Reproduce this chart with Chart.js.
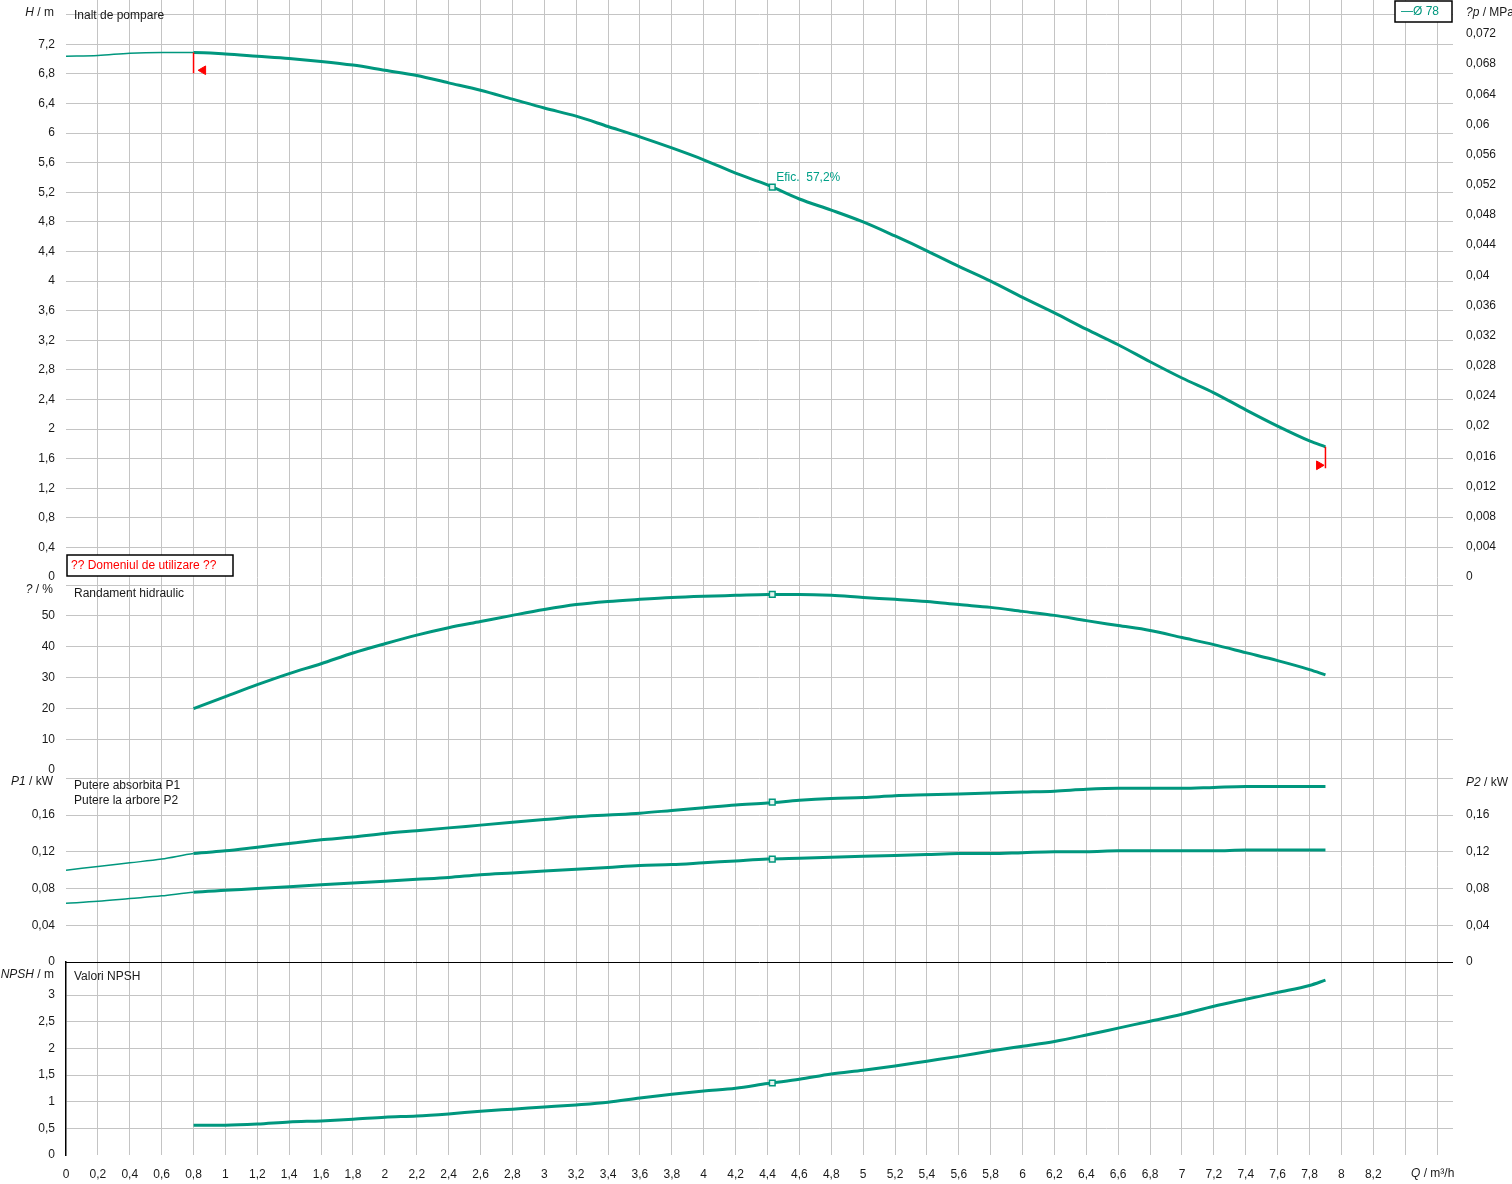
<!DOCTYPE html>
<html>
<head>
<meta charset="utf-8">
<script src="https://cdn.jsdelivr.net/npm/chart.js@4/dist/chart.umd.min.js"></script>
<style>
  html, body { margin: 0; padding: 0; background: #fff; }
</style>
</head>
<body>
<canvas id="pumpChart" width="1512" height="1184"></canvas>
<script>
// flow Q in m3/h
const qFlow = [0, 0.2, 0.4, 0.6, 0.8, 1, 1.2, 1.4, 1.6, 1.8, 2, 2.2, 2.4, 2.6, 2.8, 3, 3.2, 3.4, 3.6, 3.8,
  4, 4.2, 4.4, 4.6, 4.8, 5, 5.2, 5.4, 5.6, 5.8, 6, 6.2, 6.4, 6.6, 6.8, 7, 7.2, 7.4, 7.6, 7.8, 7.9];

// H / m
const head = [7.04, 7.05, 7.08, 7.09, 7.09, 7.07, 7.04, 7.01, 6.97, 6.92, 6.85, 6.78, 6.68, 6.58, 6.46, 6.34, 6.23, 6.09, 5.95, 5.80,
  5.64, 5.46, 5.30, 5.11, 4.96, 4.80, 4.61, 4.41, 4.20, 4.00, 3.78, 3.57, 3.35, 3.14, 2.91, 2.69, 2.49, 2.26, 2.04, 1.84, 1.76];

// randament / %
const eff = [null, null, null, null, 19.9, 23.8, 27.7, 31.3, 34.5, 38.0, 41.0, 43.8, 46.2, 48.2, 50.2, 52.1, 53.7, 54.7, 55.4, 56.0,
  56.4, 56.7, 57.0, 57.0, 56.7, 56.0, 55.4, 54.7, 53.7, 52.8, 51.5, 50.2, 48.5, 46.9, 45.3, 43.0, 40.7, 38.1, 35.5, 32.6, 30.9];

// P1 / kW
const powerP1 = [0.100, 0.104, 0.108, 0.112, 0.118, 0.121, 0.125, 0.129, 0.133, 0.136, 0.140, 0.143, 0.146, 0.149, 0.152, 0.155, 0.158, 0.160, 0.162, 0.165,
  0.168, 0.171, 0.173, 0.176, 0.178, 0.179, 0.181, 0.182, 0.183, 0.184, 0.185, 0.186, 0.188, 0.189, 0.189, 0.189, 0.190, 0.191, 0.191, 0.191, 0.191];

// P2 / kW
const powerP2 = [0.064, 0.066, 0.069, 0.072, 0.076, 0.078, 0.080, 0.082, 0.084, 0.086, 0.088, 0.090, 0.092, 0.095, 0.097, 0.099, 0.101, 0.103, 0.105, 0.106,
  0.108, 0.110, 0.112, 0.113, 0.114, 0.115, 0.116, 0.117, 0.118, 0.118, 0.119, 0.120, 0.120, 0.121, 0.121, 0.121, 0.121, 0.122, 0.122, 0.122, 0.122];

// NPSH / m
const npsh = [null, null, null, null, 0.56, 0.56, 0.58, 0.62, 0.64, 0.67, 0.71, 0.73, 0.77, 0.82, 0.86, 0.90, 0.94, 0.99, 1.07, 1.14,
  1.20, 1.25, 1.34, 1.42, 1.52, 1.59, 1.67, 1.76, 1.85, 1.95, 2.04, 2.13, 2.25, 2.38, 2.51, 2.64, 2.79, 2.92, 3.05, 3.18, 3.28];

// punct optim (BEP)
const bepQ = 4.43;
const bepHead = 5.27;
const bepEff = 57.0;
const bepP1 = 0.174;
const bepP2 = 0.112;
const bepNpsh = 1.35;
const bepLabel = 'Efic.  57,2%';

// domeniul de utilizare: limite
const limitQ = [0.8, 7.9];
const limitTop = [7.09, 1.76];
const limitBottom = [6.81, 1.47];
const arrowQ = [0.86, 7.86];
const arrowH = [6.85, 1.51];

const thinUntil = 0.8;
const teal = '#00977e';
const gridCol = '#c4c4c4';
const FONT = '"Liberation Sans", Arial, sans-serif';

Chart.defaults.font.family = FONT;
Chart.defaults.font.size = 12;
Chart.defaults.color = '#1a1a1a';

function fmt(v) { return String(+v.toFixed(4)).replace('.', ','); }
function pts(ys) { return qFlow.map((x, i) => ({ x: x, y: ys[i] })); }

const segWidth = ctx => ctx.p0.parsed.x < thinUntil - 1e-6 ? 1.5 : 3;

function noPad(s) { s.paddingTop = 0; s.paddingBottom = 0; s.paddingLeft = 0; s.paddingRight = 0; }

function curve(ys, axis) {
  return {
    data: pts(ys), yAxisID: axis,
    borderColor: teal, borderWidth: 3,
    segment: { borderWidth: segWidth },
    pointRadius: 0, cubicInterpolationMode: 'monotone'
  };
}
function bep(y, axis) {
  return {
    data: [{ x: bepQ, y: y }], yAxisID: axis, showLine: false,
    pointStyle: 'rect', pointRadius: 4, borderWidth: 1.5,
    borderColor: teal, pointBackgroundColor: '#e8f5f1'
  };
}
function limitLine(i) {
  return {
    data: [{ x: limitQ[i], y: limitTop[i] }, { x: limitQ[i], y: limitBottom[i] }],
    yAxisID: 'yH', borderColor: '#ff0000', borderWidth: 1.5, pointRadius: 0
  };
}
function limitArrow(i, rot) {
  return {
    data: [{ x: arrowQ[i], y: arrowH[i] }], yAxisID: 'yH', showLine: false,
    pointStyle: 'triangle', pointRotation: rot, pointRadius: 5,
    pointBackgroundColor: '#ff0000', borderColor: '#ff0000', borderWidth: 1
  };
}

const hideZero = c => c.tick.value === 0 ? 'rgba(0,0,0,0)' : gridCol;

function leftAxis(weight, stackWeight, max, step, hideAbove, gridColor) {
  return {
    type: 'linear', position: 'left', stack: 'L', stackWeight: stackWeight, weight: weight,
    min: 0, max: max,
    ticks: { stepSize: step, includeBounds: false, padding: 11, autoSkip: false,
      callback: v => v > hideAbove ? '' : fmt(v) },
    grid: { color: gridColor || hideZero, drawTicks: false },
    border: { display: false },
    afterFit: s => { s.width = 66; noPad(s); }
  };
}
function rightAxis(weight, stackWeight, max, step, hideAbove) {
  const show = step !== null;
  return {
    type: 'linear', position: 'right', stack: 'R', stackWeight: stackWeight, weight: weight,
    min: 0, max: max,
    ticks: { display: show, stepSize: step || undefined, includeBounds: false, padding: 13, autoSkip: false,
      callback: v => v > hideAbove ? '' : fmt(v) },
    grid: { display: false, drawTicks: false },
    border: { display: false },
    afterFit: s => { s.width = 59; noPad(s); }
  };
}

function drawParts(ctx, parts, x, y, align) {
  ctx.textBaseline = 'middle';
  ctx.textAlign = 'left';
  const widths = parts.map(p => { ctx.font = (p[1] ? 'italic ' : '') + '12px ' + FONT; return ctx.measureText(p[0]).width; });
  let cx = align === 'right' ? x - widths.reduce((a, b) => a + b, 0) : x;
  parts.forEach((p, i) => {
    ctx.font = (p[1] ? 'italic ' : '') + '12px ' + FONT;
    ctx.fillText(p[0], cx, y);
    cx += widths[i];
  });
}

const labelsPlugin = {
  id: 'labels',
  afterDraw(chart) {
    const ctx = chart.ctx;
    const sx = chart.scales.x, sh = chart.scales.yH;
    ctx.save();
    ctx.fillStyle = '#1a1a1a';
    // titluri axe
    drawParts(ctx, [['H', true], [' / m', false]], 54, 13, 'right');
    drawParts(ctx, [['?', true], [' / %', false]], 53, 590, 'right');
    drawParts(ctx, [['P1', true], [' / kW', false]], 53, 782, 'right');
    drawParts(ctx, [['NPSH', true], [' / m', false]], 54, 975, 'right');
    drawParts(ctx, [['?p', true], [' / MPa', false]], 1466, 13, 'left');
    drawParts(ctx, [['P2', true], [' / kW', false]], 1466, 783, 'left');
    drawParts(ctx, [['Q', true], [' / m\u00b3/h', false]], 1411, 1174, 'left');

    // denumiri panouri
    ctx.font = '12px ' + FONT;
    ctx.fillText('Inalt de pompare', 74, 16);
    ctx.fillText('Randament hidraulic', 74, 594);
    ctx.fillText('Putere absorbita P1', 74, 786);
    ctx.fillText('Putere la arbore P2', 74, 801);
    ctx.fillText('Valori NPSH', 74, 977);

    // eticheta BEP
    ctx.fillStyle = '#00a088';
    ctx.fillText(bepLabel, sx.getPixelForValue(bepQ) + 4, sh.getPixelForValue(bepHead) - 9);

    // caseta domeniu
    ctx.fillStyle = '#fff';
    ctx.fillRect(67, 555, 166, 21);
    ctx.strokeStyle = '#000';
    ctx.lineWidth = 1.5;
    ctx.strokeRect(67, 555, 166, 21);
    ctx.fillStyle = '#ff0000';
    ctx.fillText('?? Domeniul de utilizare ??', 71, 566);

    // legenda
    ctx.fillStyle = '#fff';
    ctx.fillRect(1395, 1, 57, 21);
    ctx.strokeRect(1395, 1, 57, 21);
    ctx.fillStyle = teal;
    ctx.fillText('\u2014\u00d8 78', 1401, 12);
    ctx.restore();
  }
};

new Chart(document.getElementById('pumpChart'), {
  type: 'line',
  data: {
    datasets: [
      bep(bepHead, 'yH'), bep(bepEff, 'yE'), bep(bepP1, 'yP'), bep(bepP2, 'yP'), bep(bepNpsh, 'yN'),
      limitArrow(0, 270), limitArrow(1, 90), limitLine(0), limitLine(1),
      curve(head, 'yH'), curve(eff, 'yE'), curve(powerP1, 'yP'), curve(powerP2, 'yP'), curve(npsh, 'yN')
    ]
  },
  options: {
    responsive: false,
    devicePixelRatio: 1,
    animation: false,
    layout: { padding: 0, autoPadding: false },
    plugins: { legend: { display: false }, tooltip: { enabled: false } },
    scales: {
      x: {
        type: 'linear', position: 'bottom', min: 0, max: 8.7,
        ticks: { stepSize: 0.2, includeBounds: false, autoSkip: false, maxRotation: 0, padding: 12,
          callback: v => v > 8.3 ? '' : fmt(v) },
        grid: { color: c => c.tick.value === 0 ? 'rgba(0,0,0,0)' : gridCol, drawTicks: false },
        border: { display: false },
        afterFit: s => { s.height = 29; noPad(s); }
      },
      yH: leftAxis(4, 577, 7.8, 0.4, 7.3),
      yE: leftAxis(3, 193, 62.66, 10, 55),
      yP: leftAxis(2, 192, 0.209, 0.04, 0.19, c => c.tick.value === 0 ? '#000' : gridCol),
      yN: Object.assign(leftAxis(1, 193, 3.62, 0.5, 3.2,
        c => (c.tick.value === 0 || c.tick.value > 3.2) ? 'rgba(0,0,0,0)' : gridCol),
        { border: { display: true, color: '#000', width: 1.5 } }),
      rD: rightAxis(1, 577, 7.8 / 101.97, 0.004, 0.074),
      rE: rightAxis(2, 193, 1, null, 1),
      rP: rightAxis(3, 192, 0.209, 0.04, 0.19),
      rN: rightAxis(4, 193, 1, null, 1)
    }
  },
  plugins: [labelsPlugin]
});
</script>
</body>
</html>
